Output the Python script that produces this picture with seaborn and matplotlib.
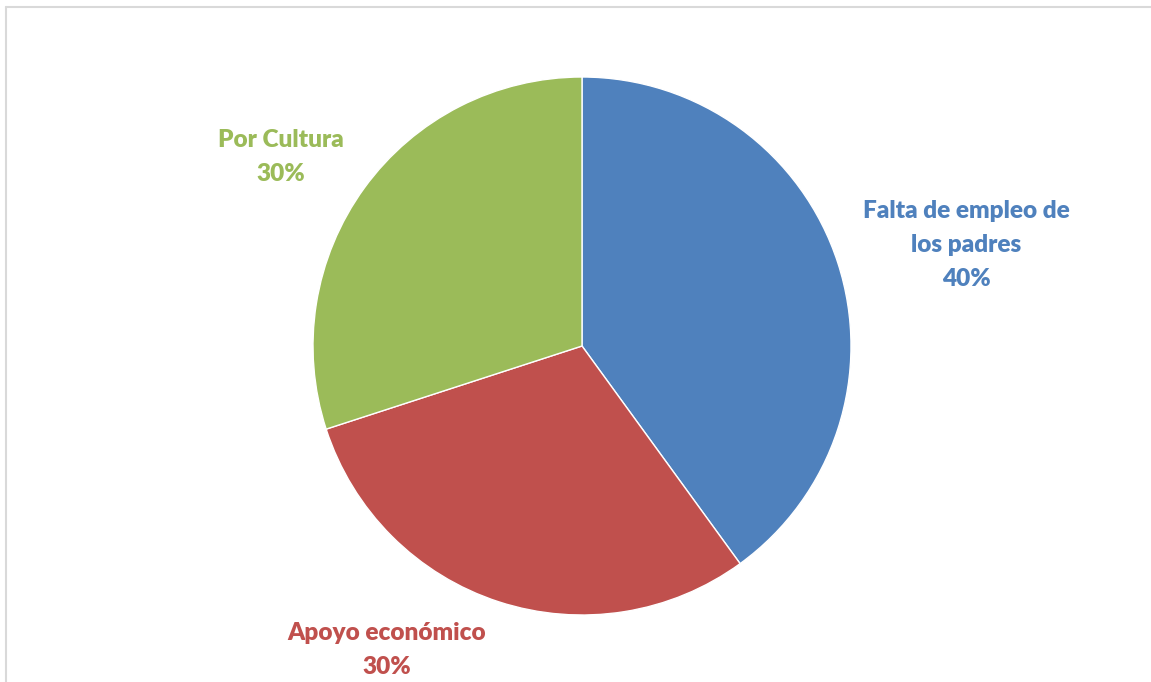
import numpy as np
import matplotlib
matplotlib.use("Agg")
import matplotlib.pyplot as plt
import seaborn as sns
from matplotlib.lines import Line2D

categories = ['Falta de empleo de\nlos padres', 'Apoyo económico', 'Por Cultura']
values = [40, 30, 30]
colors = ['#4F81BD', '#C0504D', '#9BBB59']

sns.set_theme(style='white')
plt.rcParams['font.family'] = ['Lato', 'DejaVu Sans']

W, H = 1151, 682
cx, cy, r = 582, 346, 269

fig = plt.figure(figsize=(W / 100, H / 100), dpi=100)
ax = fig.add_axes([0, 0, 1, 1])

wedges, _ = ax.pie(values, colors=colors, startangle=90, counterclock=False,
                   wedgeprops=dict(edgecolor='white', linewidth=1))

ax.set_xlim(-cx / r, (W - cx) / r)
ax.set_ylim(-(H - cy) / r, cy / r)
ax.set_aspect('auto')
ax.axis('off')

# label placement (angle in degrees, distance in radii)
label_pos = [(14.7, 1.477), (-122.7, 1.343), (147.9, 1.32)]
total = sum(values)
for name, v, c, (ang, dist) in zip(categories, values, colors, label_pos):
    a = np.deg2rad(ang)
    ax.text(dist * np.cos(a), dist * np.sin(a), f'{name}\n{v / total:.0%}',
            ha='center', va='center', color=c, fontsize=17.6, fontweight='heavy',
            linespacing=1.65)

# chart border (top and left visible)
fig.add_artist(Line2D([5.5 / W, 1], [1 - 6.5 / H, 1 - 6.5 / H], color='#D9D9D9',
                      lw=1.5, transform=fig.transFigure))
fig.add_artist(Line2D([5.5 / W, 5.5 / W], [0, 1 - 6.5 / H], color='#D9D9D9',
                      lw=1.5, transform=fig.transFigure))

fig.savefig('out.png', dpi=100)
